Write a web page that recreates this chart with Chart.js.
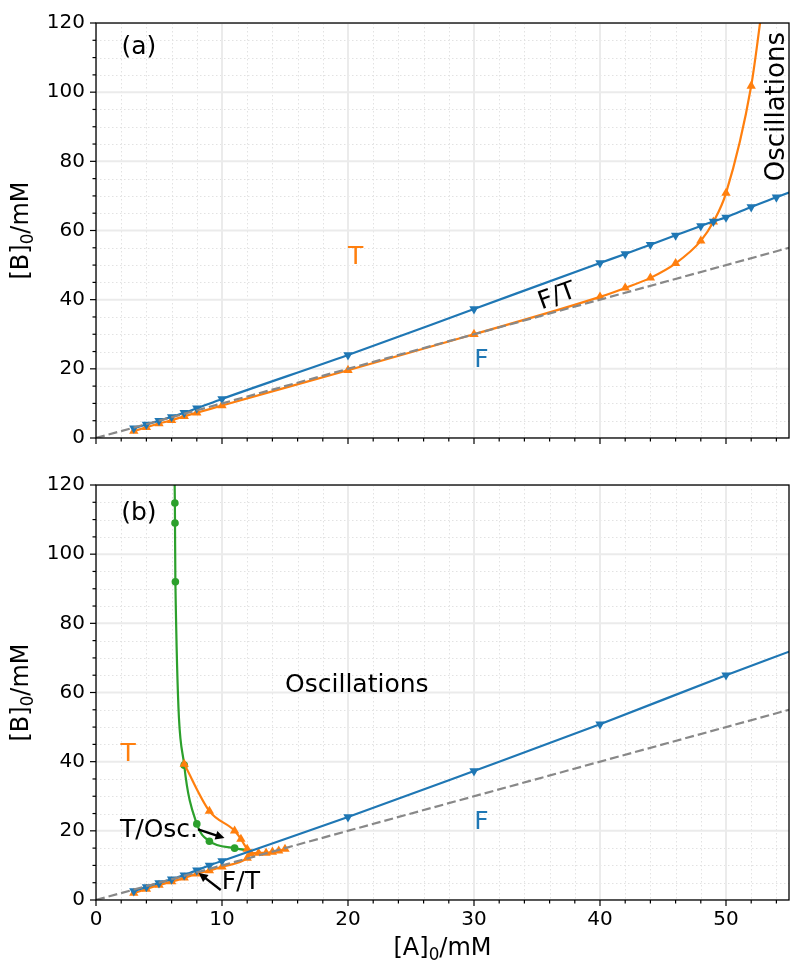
<!DOCTYPE html>
<html><head><meta charset="utf-8">
<script src="https://cdn.jsdelivr.net/npm/chart.js@4/dist/chart.umd.min.js"></script>
<style>html,body{margin:0;padding:0;background:#fff;}canvas{display:block}</style>
</head><body>
<canvas id="c1" width="790" height="462" style="width:790px;height:462px"></canvas>
<canvas id="c2" width="790" height="502" style="width:790px;height:502px"></canvas>
<script>
// ---------- data ----------
// panel (a)
const aF_A = [3,4,5,6,7,8,10,20,30,40,42,44,46,48,49,50,52,54,55];
const aF_B = [2.8,3.9,5.0,6.1,7.3,8.6,11.3,24.0,37.3,50.6,53.2,55.9,58.6,61.3,62.6,63.8,66.8,69.6,71.0];
const aT_A = [3,4,5,6,7,8,10,20,30,40,42,44,46,48,49,50,52,52.7,53.1];
const aT_B = [2.0,3.1,4.2,5.1,6.3,7.3,9.4,19.6,30.0,40.8,43.4,46.3,50.5,57.0,62.5,70.8,101.8,120,132];
// panel (b)
const bF_A = [3,4,5,6,7,8,9,10,20,30,40,50,55];
const bF_B = [2.6,3.8,4.9,6.0,7.2,8.6,10.0,11.3,24.0,37.3,50.8,65.0,71.8];
const bTlow_A = [3,4,5,6,7,8,9,10,12,12.3,12.9,13.5,14,14.5,15];
const bTlow_B = [2.0,3.2,4.3,5.3,6.4,7.6,8.5,9.6,12.1,13.4,13.6,13.6,13.9,14.2,14.7];
const bTup_A = [7,9,11,11.5,12,12.3];
const bTup_B = [39.3,25.7,20.0,17.6,14.7,13.4];
const bOsc_A = [6.2,6.26,6.27,6.3,7,8,9,11,12.4];
const bOsc_B = [128,114.8,109,92,39,22,17,15,14.2];
// diagonal reference line [B]0 = [A]0
const diag_A = [0,55];
const diag_B = [0,55];
// axis ticks
const X_MIN = 0, X_MAX = 55, X_MAJOR = 10, X_MINOR = 2;
const Y_MIN = 0, Y_MAX = 120, Y_MAJOR = 20, Y_MINOR = 5;

const BLUE = '#1f77b4', ORANGE = '#ff7f0e', GREEN = '#2ca02c', GREY = '#888888';
const FONT = "'DejaVu Sans', sans-serif";
const MR = 5.4;

function pts(A, B){ return A.map((a,i)=>({x:a, y:B[i]})); }
function radii(n, hideIdx, r){ const out=[]; for(let i=0;i<n;i++) out.push(hideIdx.includes(i)?0:r); return out; }

function lineDs(A,B,color,opts){
  return Object.assign({
    data: pts(A,B), borderColor: color, backgroundColor: color,
    borderWidth: 2.2, pointRadius: MR, pointHoverRadius: 0,
    pointStyle: 'triangle', pointBorderWidth: 0,
    cubicInterpolationMode: 'monotone', fill: false
  }, opts||{});
}
function diagDs(){
  return { data: pts(diag_A,diag_B), borderColor: GREY, borderWidth: 2.2, borderDash:[9,4],
           pointRadius:0, fill:false, tension:0, order:0 };
}

// ---------- drawing helpers ----------
function drawSubLabel(ctx, parts, cx, cy, size, rot){
  ctx.save();
  ctx.translate(cx, cy); ctx.rotate(rot);
  const widths = parts.map(p=>{ ctx.font = (p.sub? size*0.7 : size)+'px '+FONT; return ctx.measureText(p.t).width; });
  const total = widths.reduce((s,w)=>s+w,0);
  let x = -total/2;
  ctx.fillStyle = '#000'; ctx.textBaseline = 'middle'; ctx.textAlign='left';
  parts.forEach((p,i)=>{
    ctx.font = (p.sub? size*0.7 : size)+'px '+FONT;
    ctx.fillText(p.t, x, p.sub ? size*0.28 : 0);
    x += widths[i];
  });
  ctx.restore();
}
function arrow(ctx, x0,y0,x1,y1){
  const ang = Math.atan2(y1-y0, x1-x0), h = 9, w = 4.5;
  ctx.save(); ctx.strokeStyle='#000'; ctx.fillStyle='#000'; ctx.lineWidth=2.4; ctx.setLineDash([]);
  ctx.beginPath(); ctx.moveTo(x0,y0); ctx.lineTo(x1 - Math.cos(ang)*h*0.8, y1 - Math.sin(ang)*h*0.8); ctx.stroke();
  ctx.beginPath();
  ctx.moveTo(x1,y1);
  ctx.lineTo(x1 - Math.cos(ang)*h - Math.sin(ang)*w, y1 - Math.sin(ang)*h + Math.cos(ang)*w);
  ctx.lineTo(x1 - Math.cos(ang)*h + Math.sin(ang)*w, y1 - Math.sin(ang)*h - Math.cos(ang)*w);
  ctx.closePath(); ctx.fill();
  ctx.restore();
}

function mplPlugin(cfg){
  return {
    id: 'mpl',
    beforeDatasetsDraw(chart){
      const {ctx, chartArea:a} = chart; const xs = chart.scales.x, ys = chart.scales.y;
      ctx.save();
      ctx.beginPath(); ctx.rect(a.left,a.top,a.right-a.left,a.bottom-a.top); ctx.clip();
      // minor grid (dotted)
      ctx.strokeStyle = '#e2e2e2'; ctx.lineWidth = 1; ctx.setLineDash([1.5,2.5]);
      for (let v=X_MIN; v<=X_MAX; v+=X_MINOR){ if (v%X_MAJOR===0) continue; const p=Math.round(xs.getPixelForValue(v))+0.5;
        ctx.beginPath(); ctx.moveTo(p,a.top); ctx.lineTo(p,a.bottom); ctx.stroke(); }
      for (let v=Y_MIN; v<=Y_MAX; v+=Y_MINOR){ if (v%Y_MAJOR===0) continue; const p=Math.round(ys.getPixelForValue(v))+0.5;
        ctx.beginPath(); ctx.moveTo(a.left,p); ctx.lineTo(a.right,p); ctx.stroke(); }
      // major grid
      ctx.setLineDash([]); ctx.strokeStyle = '#ebebeb'; ctx.lineWidth = 2;
      for (let v=X_MIN; v<=X_MAX; v+=X_MAJOR){ const p=xs.getPixelForValue(v);
        ctx.beginPath(); ctx.moveTo(p,a.top); ctx.lineTo(p,a.bottom); ctx.stroke(); }
      for (let v=Y_MIN; v<=Y_MAX; v+=Y_MAJOR){ const p=ys.getPixelForValue(v);
        ctx.beginPath(); ctx.moveTo(a.left,p); ctx.lineTo(a.right,p); ctx.stroke(); }
      ctx.restore();
    },
    afterDraw(chart){
      const {ctx, chartArea:a} = chart; const xs = chart.scales.x, ys = chart.scales.y;
      ctx.save();
      // annotations
      (cfg.texts||[]).forEach(t=>{
        ctx.save();
        ctx.translate(xs.getPixelForValue(t.x), ys.getPixelForValue(t.y));
        ctx.rotate((t.rot||0)*Math.PI/180);
        ctx.font = (t.size||25)+'px '+FONT; ctx.fillStyle = t.color||'#000';
        ctx.textAlign='center'; ctx.textBaseline='middle';
        ctx.fillText(t.text, 0, 0);
        ctx.restore();
      });
      (cfg.arrows||[]).forEach(r=>{
        arrow(ctx, xs.getPixelForValue(r.x0), ys.getPixelForValue(r.y0), xs.getPixelForValue(r.x1), ys.getPixelForValue(r.y1));
      });
      // frame
      ctx.strokeStyle='#000'; ctx.lineWidth=1.3; ctx.setLineDash([]);
      ctx.strokeRect(a.left, a.top, a.right-a.left, a.bottom-a.top);
      // tick marks
      ctx.lineWidth=1.2;
      for (let v=X_MIN; v<=X_MAX; v+=X_MINOR){ const p=xs.getPixelForValue(v); const L = (v%X_MAJOR===0)?6:3.5;
        ctx.beginPath(); ctx.moveTo(p,a.bottom); ctx.lineTo(p,a.bottom+L); ctx.stroke(); }
      for (let v=Y_MIN; v<=Y_MAX; v+=Y_MINOR){ const p=ys.getPixelForValue(v); const L = (v%Y_MAJOR===0)?6:3.5;
        ctx.beginPath(); ctx.moveTo(a.left,p); ctx.lineTo(a.left-L,p); ctx.stroke(); }
      // axis titles
      drawSubLabel(ctx, [{t:'[B]'},{t:'0',sub:true},{t:'/mM'}], 22, (a.top+a.bottom)/2, 24, -Math.PI/2);
      if (cfg.xTitle) drawSubLabel(ctx, [{t:'[A]'},{t:'0',sub:true},{t:'/mM'}], (a.left+a.right)/2, a.bottom+49, 24, 0);
      ctx.restore();
    }
  };
}

function makeChart(id, datasets, cfg){
  return new Chart(document.getElementById(id), {
    type: 'line',
    data: { datasets },
    options: {
      responsive: false, animation: false, devicePixelRatio: 1,
      layout: { autoPadding: false, padding: { top: 23, right: 1, left: 0, bottom: 0 } },
      plugins: { legend: { display: false }, tooltip: { enabled: false } },
      events: [],
      scales: {
        x: { type: 'linear', min: X_MIN, max: X_MAX,
             border: { display: false },
             grid: { drawOnChartArea: false, drawTicks: true, tickLength: 6, tickColor: 'rgba(0,0,0,0)' },
             ticks: { display: cfg.xLabels, stepSize: X_MAJOR, autoSkip: false, maxRotation: 0, padding: 2,
                      color: '#000', font: { family: FONT, size: 20 },
                      callback: v => (v % X_MAJOR === 0 ? String(v) : '') },
             afterFit: s => { s.height = cfg.xHeight; s.paddingRight = 0; s.paddingLeft = 0; } },
        y: { type: 'linear', min: Y_MIN, max: Y_MAX,
             border: { display: false },
             grid: { drawOnChartArea: false, drawTicks: true, tickLength: 6, tickColor: 'rgba(0,0,0,0)' },
             ticks: { stepSize: Y_MAJOR, autoSkip: false, padding: 5, color: '#000', font: { family: FONT, size: 20 } },
             afterFit: s => { s.width = 96; s.paddingTop = 0; s.paddingBottom = 0; } }
      }
    },
    plugins: [mplPlugin(cfg)]
  });
}

// panel (a)
makeChart('c1', [
  diagDs(),
  lineDs(aF_A, aF_B, BLUE, { rotation: 180, pointRadius: radii(aF_A.length,[aF_A.length-1],MR), order: 1 }),
  lineDs(aT_A, aT_B, ORANGE, { pointRadius: radii(aT_A.length,[aT_A.length-2,aT_A.length-1],MR), order: 2 })
], {
  xLabels: false, xHeight: 24, xTitle: false,
  texts: [
    { text: '(a)', x: 3.4, y: 112.8 },
    { text: 'T', x: 20.6, y: 52.3, color: ORANGE },
    { text: 'F', x: 30.6, y: 22.3, color: BLUE },
    { text: 'F/T', x: 36.6, y: 40.8, rot: -20 },
    { text: 'Oscillations', x: 54.05, y: 95.8, rot: -90, size: 26 }
  ]
});

// panel (b)
makeChart('c2', [
  diagDs(),
  lineDs(bF_A, bF_B, BLUE, { rotation: 180, pointRadius: radii(bF_A.length,[bF_A.length-1],MR), order: 1 }),
  lineDs(bTlow_A, bTlow_B, ORANGE, { order: 2 }),
  lineDs(bTup_A, bTup_B, ORANGE, { pointRadius: radii(bTup_A.length,[bTup_A.length-1],MR), order: 2 }),
  lineDs(bOsc_A, bOsc_B, GREEN, { pointStyle: 'circle', pointRadius: radii(bOsc_A.length,[0,bOsc_A.length-1],3.8), order: 3 })
], {
  xLabels: true, xHeight: 64, xTitle: true,
  texts: [
    { text: '(b)', x: 3.4, y: 111.9 },
    { text: 'Oscillations', x: 20.7, y: 61.9 },
    { text: 'T', x: 2.55, y: 42.2, color: ORANGE },
    { text: 'F', x: 30.6, y: 22.3, color: BLUE },
    { text: 'T/Osc.', x: 5.0, y: 20.2 },
    { text: 'F/T', x: 11.5, y: 5.2 }
  ],
  arrows: [
    { x0: 8.1, y0: 20.4, x1: 10.2, y1: 17.9 },
    { x0: 9.9, y0: 2.9, x1: 8.15, y1: 7.8 }
  ]
});
</script>
</body></html>
